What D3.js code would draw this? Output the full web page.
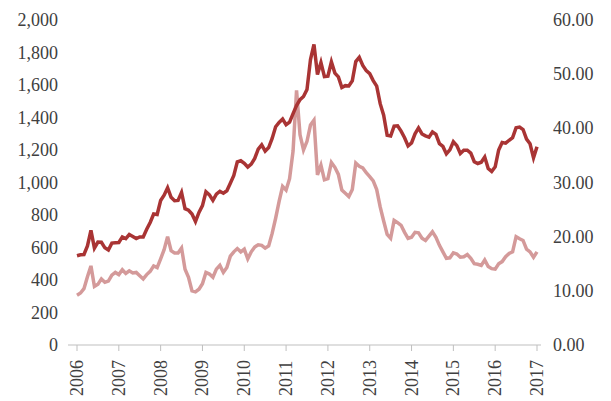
<!DOCTYPE html><html><head><meta charset="utf-8"><script src="https://cdn.jsdelivr.net/npm/d3@7"></script>
<style>body{margin:0;background:#fff}</style></head><body><svg width="611" height="401"></svg><script>
const years=[2006,2007,2008,2009,2010,2011,2012,2013,2014,2015,2016,2017];
const gold=[549,555,557,610,705,596,633,632,598,585,627,629,
631,665,655,680,668,655,665,665,712,754,806,803,
889,922,968,909,888,890,939,839,829,806,760,816,
858,943,924,890,928,946,934,949,996,1043,1127,1134,
1118,1095,1113,1148,1205,1232,1193,1215,1271,1343,1370,1391,
1356,1372,1424,1473,1510,1529,1572,1756,1850,1665,1739,1652,
1654,1742,1673,1650,1585,1596,1594,1626,1744,1770,1721,1688,
1670,1627,1593,1485,1414,1290,1286,1347,1349,1316,1275,1225,
1244,1300,1336,1299,1287,1279,1311,1296,1239,1222,1176,1201,
1251,1227,1178,1198,1199,1181,1128,1117,1125,1157,1086,1068,
1097,1200,1246,1242,1260,1276,1337,1341,1326,1267,1238,1152,1220];
const silver=[9.2,9.6,10.4,12.6,14.6,10.8,11.2,12.2,11.6,11.8,12.9,13.4,
13.0,13.9,13.2,13.7,13.3,13.4,12.8,12.2,13.0,13.6,14.6,14.3,
15.9,17.6,20.0,17.4,17.0,17.0,17.9,14.0,12.5,10.0,9.8,10.3,
11.3,13.4,13.1,12.5,14.0,14.7,13.4,14.3,16.4,17.2,17.8,17.2,
17.7,15.9,17.2,18.1,18.5,18.4,17.9,18.3,20.6,23.4,26.5,29.3,
28.6,30.7,35.8,47.0,38.8,36.0,37.6,40.6,41.5,31.4,33.2,30.5,
30.7,33.7,32.8,31.5,28.6,28.0,27.4,28.7,33.6,33.0,32.7,31.8,
31.1,30.3,28.7,25.5,22.9,20.4,19.7,23.0,22.6,22.1,20.8,19.7,
19.9,20.8,20.7,19.7,19.3,20.1,20.9,19.9,18.4,17.2,16.0,16.1,
17.0,16.8,16.2,16.3,16.7,16.0,15.0,14.9,14.7,15.7,14.5,14.1,
14.0,15.0,15.4,16.3,16.9,17.2,20.0,19.6,19.3,17.7,17.2,16.2,17.2];
const leftTicks=[0,200,400,600,800,1000,1200,1400,1600,1800,2000];
const rightTicks=[0,10,20,30,40,50,60];
const svg=d3.select("svg").attr("font-family","'Liberation Serif', 'Times New Roman', serif").attr("font-size",18).attr("fill","#404040");
const x=d3.scaleLinear().domain([2006,2017]).range([77,537]);
const yL=d3.scaleLinear().domain([0,2000]).range([345,20]);
const yR=d3.scaleLinear().domain([0,60]).range([345,20]);
svg.append("line").attr("x1",68).attr("x2",541).attr("y1",345).attr("y2",345).attr("stroke","#bfbfbf");
years.forEach(y=>svg.append("line").attr("x1",x(y)).attr("x2",x(y)).attr("y1",345).attr("y2",351).attr("stroke","#bfbfbf"));
svg.selectAll(".yl").data(leftTicks).join("text").attr("x",58).attr("y",d=>yL(d)+6).attr("text-anchor","end").text(d3.format(","));
svg.selectAll(".yr").data(rightTicks).join("text").attr("x",553).attr("y",d=>yR(d)+6).text(d=>d.toFixed(2));
svg.selectAll(".xl").data(years).join("text").attr("transform",d=>`translate(${x(d)+6},396) rotate(-90)`).text(d=>d);
const t=i=>2006+i/12;
svg.append("path").attr("d",d3.line().x((d,i)=>x(t(i))).y(d=>yR(d))(silver)).attr("fill","none").attr("stroke","#d49a9a").attr("stroke-width",3.5);
svg.append("path").attr("d",d3.line().x((d,i)=>x(t(i))).y(d=>yL(d))(gold)).attr("fill","none").attr("stroke","#a93434").attr("stroke-width",3.5);
</script></body></html>
